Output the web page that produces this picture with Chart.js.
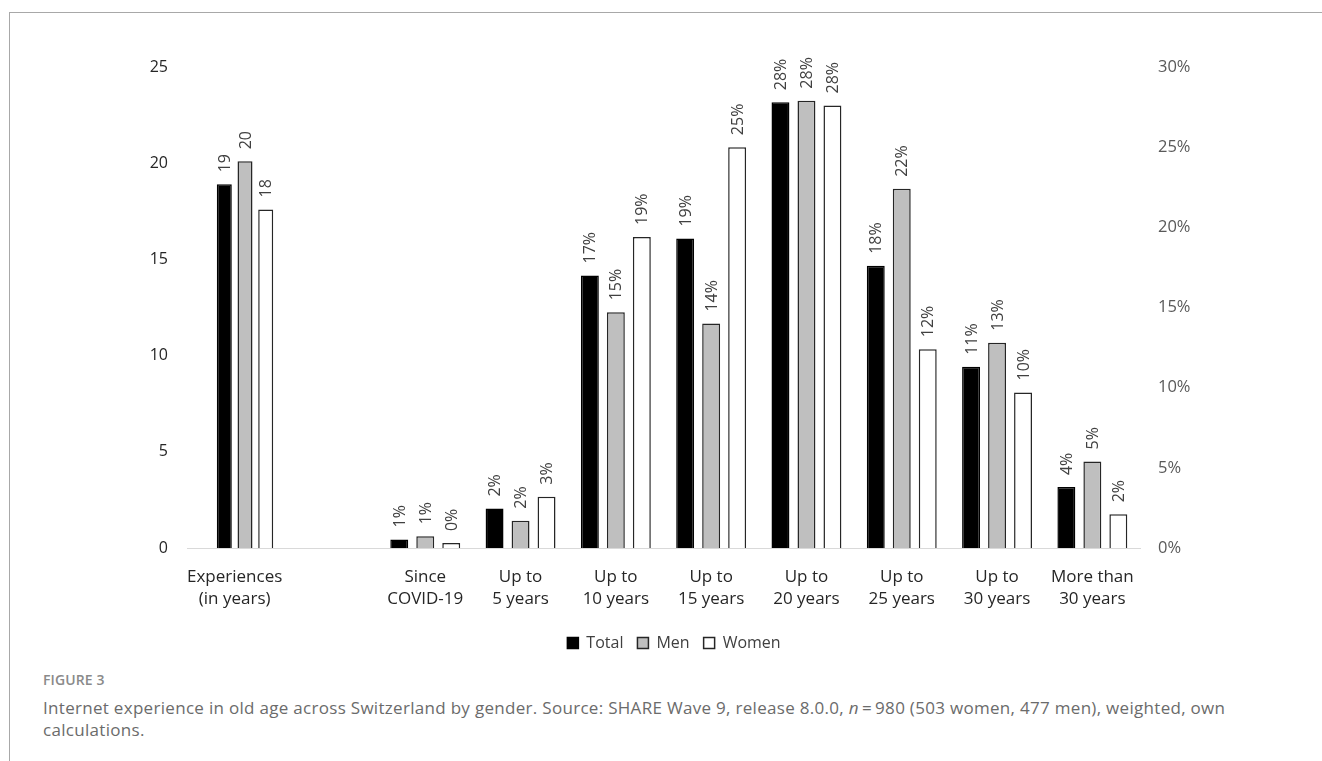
<!DOCTYPE html>
<html>
<head>
<meta charset="utf-8">
<script src="https://cdn.jsdelivr.net/npm/chart.js@4.4.1/dist/chart.umd.min.js"></script>
<style>
  html, body { margin: 0; padding: 0; background: #fff; }
  body { width: 1322px; height: 761px; position: relative; overflow: hidden; font-family: "Open Sans", sans-serif; }
  .frame { position: absolute; left: 9px; top: 12px; right: -2px; bottom: -2px; border-top: 1px solid #a8a8a8; border-left: 1px solid #a8a8a8; }
  #chart { position: absolute; left: 0; top: 0; }
  .fig { position: absolute; left: 43px; top: 670px; font-size: 14px; font-weight: 600; color: #8a8a8a; line-height: 20px; letter-spacing: 0.1px; }
  .cap { position: absolute; left: 43px; top: 697px; font-size: 17px; letter-spacing: 0.3px; color: #6b6b6b; line-height: 22px; white-space: nowrap; }
</style>
</head>
<body>
<div class="frame"></div>
<canvas id="chart" width="1322" height="661"></canvas>
<div class="fig">FIGURE 3</div>
<div class="cap">Internet experience in old age across Switzerland by gender. Source: SHARE Wave 9, release 8.0.0, <i>n</i>&#8201;=&#8201;980 (503 women, 477 men), weighted, own<br>calculations.</div>
<script>
// Category axis: the first group is measured in years (left axis),
// the duration groups are shares of respondents (right axis).
const yearsLabel = ['Experiences', '(in years)'];
const durationLabels = [
  ['Since', 'COVID-19'],
  ['Up to', '5 years'],
  ['Up to', '10 years'],
  ['Up to', '15 years'],
  ['Up to', '20 years'],
  ['Up to', '25 years'],
  ['Up to', '30 years'],
  ['More than', '30 years']
];

// Average internet experience in years
const yearsTotal = 18.9;
const yearsMen = 20.1;
const yearsWomen = 17.6;

// Share of respondents per duration group, in percent
const pctTotal = [0.53, 2.46, 17.0, 19.3, 27.8, 17.6, 11.3, 3.8];
const pctMen = [0.73, 1.7, 14.7, 14.0, 27.9, 22.4, 12.8, 5.4];
const pctWomen = [0.31, 3.2, 19.4, 25.0, 27.6, 12.4, 9.7, 2.1];

// Axis ticks
const yearTicks = [0, 5, 10, 15, 20, 25];
const pctTicks = [0, 5, 10, 15, 20, 25, 30];

const labels = [yearsLabel, ''].concat(durationLabels);
const blanks = n => new Array(n).fill(null);
const pctSeries = arr => blanks(2).concat(arr);
const yearSeries = v => [v].concat(blanks(labels.length - 1));

const styles = {
  Total: { bg: '#000000', border: '#000000' },
  Men: { bg: '#bfbfbf', border: '#262626' },
  Women: { bg: '#ffffff', border: '#262626' }
};

function pctDataset(name, arr, stack) {
  return {
    label: name, data: pctSeries(arr), yAxisID: 'y2', stack: stack,
    backgroundColor: styles[name].bg, borderColor: styles[name].border, borderWidth: 1.5,
    categoryPercentage: 0.818, barPercentage: 0.69, skipNull: true, valueSuffix: '%'
  };
}
function yearDataset(name, v, stack) {
  return {
    label: name, data: yearSeries(v), yAxisID: 'y', stack: stack,
    backgroundColor: styles[name].bg, borderColor: styles[name].border, borderWidth: 1.5,
    categoryPercentage: 0.869, barPercentage: 0.725, skipNull: false, valueSuffix: ''
  };
}

// Rotated value labels above each bar
const valueLabels = {
  id: 'valueLabels',
  afterDatasetsDraw(chart) {
    const ctx = chart.ctx;
    ctx.save();
    ctx.font = '16px "Open Sans"';
    ctx.fillStyle = '#404040';
    ctx.textAlign = 'left';
    ctx.textBaseline = 'middle';
    chart.data.datasets.forEach((ds, di) => {
      const meta = chart.getDatasetMeta(di);
      meta.data.forEach((bar, i) => {
        const v = ds.data[i];
        if (v === null || v === undefined) return;
        ctx.save();
        ctx.translate(bar.x + 1, bar.y - 12);
        ctx.rotate(-Math.PI / 2);
        ctx.fillText(Math.round(v) + ds.valueSuffix, 0, 0);
        ctx.restore();
      });
    });
    ctx.restore();
  }
};

new Chart(document.getElementById('chart'), {
  type: 'bar',
  data: {
    labels: labels,
    datasets: [
      pctDataset('Total', pctTotal, 'a'),
      pctDataset('Men', pctMen, 'b'),
      pctDataset('Women', pctWomen, 'c'),
      yearDataset('Total', yearsTotal, 'b'),
      yearDataset('Men', yearsMen, 'c'),
      yearDataset('Women', yearsWomen, 'd')
    ]
  },
  options: {
    responsive: false,
    animation: false,
    layout: { padding: { left: 26, right: 0, top: 67, bottom: 0 } },
    plugins: {
      tooltip: { enabled: false },
      legend: {
        position: 'bottom',
        onClick: null,
        labels: {
          boxWidth: 11, boxHeight: 11, padding: 14,
          color: '#404040',
          font: { family: 'Open Sans', size: 16 },
          filter: item => item.datasetIndex < 3
        }
      }
    },
    scales: {
      x: {
        grid: { display: false, drawTicks: false },
        border: { display: true, color: '#d9d9d9', width: 1 },
        ticks: {
          color: '#262626', padding: 19, maxRotation: 0, autoSkip: false,
          font: { family: 'Open Sans', size: 17, lineHeight: 1.25 }
        },
        afterFit: s => { s.height = 73; }
      },
      y: {
        position: 'left', min: 0, max: 25, stacked: false,
        grid: { display: false, drawTicks: false },
        border: { display: false },
        afterBuildTicks: s => { s.ticks = yearTicks.map(v => ({ value: v })); },
        ticks: { color: '#262626', padding: 19, font: { family: 'Open Sans', size: 16 } },
        afterFit: s => { s.width = 161; }
      },
      y2: {
        position: 'right', min: 0, max: 30, stacked: false,
        grid: { display: false, drawTicks: false },
        border: { display: false },
        afterBuildTicks: s => { s.ticks = pctTicks.map(v => ({ value: v })); },
        ticks: {
          color: '#595959', padding: 18, font: { family: 'Open Sans', size: 16.5 },
          callback: v => v + '%'
        },
        afterFit: s => { s.width = 182; }
      }
    }
  },
  plugins: [valueLabels]
});
</script>
</body>
</html>
